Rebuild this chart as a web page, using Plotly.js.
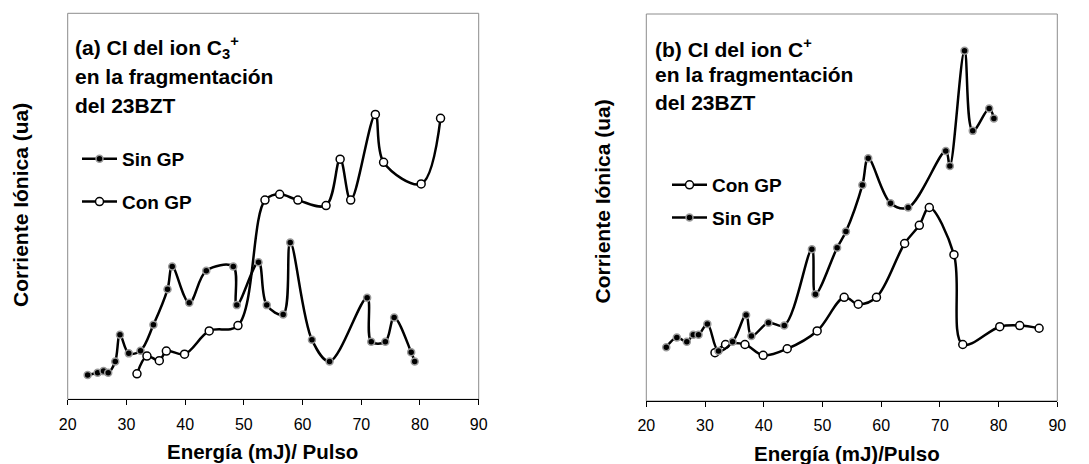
<!DOCTYPE html>
<html>
<head>
<meta charset="utf-8">
<script src="https://cdn.plot.ly/plotly-3.0.1.min.js"></script>
<style>html,body{margin:0;padding:0;background:#fff;}#chart{width:1089px;height:464px;}</style>
</head>
<body>
<div id="chart"></div>
<script>
// Panel (a): CI del ion C3+
const xSinA = [23.4, 25.1, 26.1, 26.9, 28.1, 28.9, 30.4, 32.4, 34.6, 37.0, 37.8, 40.7, 43.6, 48.2, 48.8, 52.5, 53.9, 56.7, 57.9, 61.6, 64.6, 71.0, 71.7, 74.1, 75.6, 78.5, 79.1];
const ySinA = [6.3, 6.9, 7.3, 6.9, 9.8, 16.7, 11.9, 12.6, 19.3, 28.5, 34.4, 25.0, 33.3, 34.4, 24.4, 35.5, 24.4, 22.0, 40.6, 15.4, 9.8, 26.3, 14.9, 14.9, 21.2, 12.2, 9.8];
const xConA = [31.8, 33.5, 35.6, 36.8, 39.9, 44.1, 49.0, 53.6, 56.1, 59.2, 64.0, 66.4, 68.2, 72.4, 73.8, 80.2, 83.5];
const yConA = [6.6, 11.2, 10.0, 12.5, 11.7, 17.7, 19.1, 51.6, 53.1, 51.6, 50.2, 62.2, 51.6, 73.8, 61.4, 55.8, 72.8];

// Panel (b): CI del ion C+
const xSinB = [23.4, 25.2, 26.9, 28.0, 28.9, 30.4, 32.3, 34.7, 37.0, 37.9, 40.8, 43.5, 48.2, 48.8, 52.5, 54.0, 56.8, 57.8, 61.6, 64.6, 71.0, 71.7, 74.2, 75.6, 78.4, 79.2];
const ySinB = [13.9, 16.4, 15.3, 17.1, 17.1, 19.9, 12.9, 15.3, 22.2, 16.8, 20.2, 19.5, 39.2, 27.6, 39.6, 43.8, 55.8, 62.7, 51.1, 50.0, 64.6, 60.7, 90.5, 69.8, 75.6, 73.0];
const xConB = [31.7, 33.5, 36.8, 39.9, 44.0, 49.1, 53.7, 56.1, 59.2, 64.0, 66.5, 68.2, 72.4, 73.9, 80.2, 83.6, 86.9];
const yConB = [12.5, 14.6, 14.6, 11.8, 13.5, 18.1, 26.8, 25.0, 26.8, 40.7, 45.4, 50.0, 37.8, 14.6, 19.2, 19.5, 18.8];

const xTickVals = [20, 30, 40, 50, 60, 70, 80, 90];
const xTickText = ['20', '30', '40', '50', '60', '70', '80', '90'];
const titleA = ['(a) CI del ion C<sub>3</sub><sup>+</sup>', 'en la fragmentación', 'del 23BZT'];
const titleB = ['(b) CI del ion C<sup>+</sup>', 'en la fragmentación', 'del 23BZT'];
const xTitleA = 'Energía (mJ)/ Pulso';
const xTitleB = 'Energía (mJ)/Pulso';
const yTitle = 'Corriente Iónica (ua)';
const nameSin = 'Sin GP';
const nameCon = 'Con GP';

const FONT = 'Liberation Sans, Arial, sans-serif';
const W = 1089, H = 464;

const sinStyle = {
  mode: 'lines+markers',
  line: {color: '#000', width: 2.5, shape: 'spline', smoothing: 1},
  marker: {symbol: 'circle', size: 7, color: '#000', line: {color: '#9a9a9a', width: 1.5}}
};
const conStyle = {
  mode: 'lines+markers',
  line: {color: '#000', width: 2.5, shape: 'spline', smoothing: 1},
  marker: {symbol: 'circle', size: 8, color: '#fff', line: {color: '#000', width: 1.5}}
};

const data = [
  Object.assign({x: xSinA, y: ySinA, name: nameSin, xaxis: 'x', yaxis: 'y', legend: 'legend', legendgroup: 'a1'}, sinStyle),
  Object.assign({x: xConA, y: yConA, name: nameCon, xaxis: 'x', yaxis: 'y', legend: 'legend', legendgroup: 'a2'}, conStyle),
  Object.assign({x: xConB, y: yConB, name: nameCon, xaxis: 'x2', yaxis: 'y2', legend: 'legend2', legendgroup: 'b1'}, conStyle),
  Object.assign({x: xSinB, y: ySinB, name: nameSin, xaxis: 'x2', yaxis: 'y2', legend: 'legend2', legendgroup: 'b2'}, sinStyle)
];

function xAx(domain, anchor) {
  return {
    domain: domain, anchor: anchor, range: [20, 90], tickvals: xTickVals, ticktext: xTickText,
    showgrid: false, zeroline: false, showline: true, linecolor: '#000', linewidth: 1,
    ticks: 'outside', ticklen: 5, tickcolor: '#000', tickwidth: 1, ticklabelstandoff: 5,
    tickfont: {family: FONT, size: 16, color: '#000'}, automargin: false, fixedrange: true
  };
}
function yAx(domain, anchor) {
  return {
    domain: domain, anchor: anchor, range: [0, 100], showgrid: false, zeroline: false,
    showline: false, showticklabels: false, ticks: '', automargin: false, fixedrange: true
  };
}
const px = v => v / W;
const py = v => (H - v) / H;

const annotations = [];
function addTitle(lines, left, centers) {
  lines.forEach((t, i) => annotations.push({
    xref: 'paper', yref: 'paper', x: px(left), y: py(centers[i]), xanchor: 'left', yanchor: 'middle',
    text: '<b>' + t + '</b>', showarrow: false, font: {family: FONT, size: 21, color: '#000'}
  }));
}
addTitle(titleA, 73, [47.3, 76.3, 105.7]);
addTitle(titleB, 653, [48, 74.7, 103]);
annotations.push({xref: 'paper', yref: 'paper', x: px(262), y: py(451), xanchor: 'center', yanchor: 'middle',
  text: '<b>' + xTitleA + '</b>', showarrow: false, font: {family: FONT, size: 20.5, color: '#000'}});
annotations.push({xref: 'paper', yref: 'paper', x: px(847), y: py(453), xanchor: 'center', yanchor: 'middle',
  text: '<b>' + xTitleB + '</b>', showarrow: false, font: {family: FONT, size: 20.5, color: '#000'}});
annotations.push({xref: 'paper', yref: 'paper', x: px(20), y: py(205), xanchor: 'center', yanchor: 'middle', textangle: -90,
  text: '<b>' + yTitle + '</b>', showarrow: false, font: {family: FONT, size: 21, color: '#000'}});
annotations.push({xref: 'paper', yref: 'paper', x: px(602.5), y: py(202), xanchor: 'center', yanchor: 'middle', textangle: -90,
  text: '<b>' + yTitle + '</b>', showarrow: false, font: {family: FONT, size: 21, color: '#000'}});

const frame = (xr, yr) => ({type: 'rect', xref: xr, yref: yr, x0: 0, x1: 1, y0: 0, y1: 1,
  line: {color: '#8c8c8c', width: 1}, fillcolor: 'rgba(0,0,0,0)', layer: 'below'});

const legendBase = {
  bgcolor: 'rgba(0,0,0,0)', borderwidth: 0, xanchor: 'left', yanchor: 'top',
  font: {family: FONT, size: 19, color: '#000', weight: 'bold'}, itemwidth: 35, traceorder: 'grouped'
};

const layout = {
  width: W, height: H,
  margin: {l: 0, r: 0, t: 0, b: 0},
  paper_bgcolor: '#fff', plot_bgcolor: '#fff',
  showlegend: true,
  xaxis: xAx([px(67.7), px(478.7)], 'y'),
  yaxis: yAx([py(399.3), py(13.3)], 'x'),
  xaxis2: xAx([px(646.3), px(1057.3)], 'y2'),
  yaxis2: yAx([py(401), py(14)], 'x2'),
  legend: Object.assign({}, legendBase, {x: px(77), y: py(140), tracegroupgap: 15}),
  legend2: Object.assign({}, legendBase, {x: px(667), y: py(166), tracegroupgap: 5}),
  shapes: [frame('x domain', 'y domain'), frame('x2 domain', 'y2 domain')],
  annotations: annotations
};

Plotly.newPlot('chart', data, layout, {displayModeBar: false, staticPlot: true});
</script>
</body>
</html>
